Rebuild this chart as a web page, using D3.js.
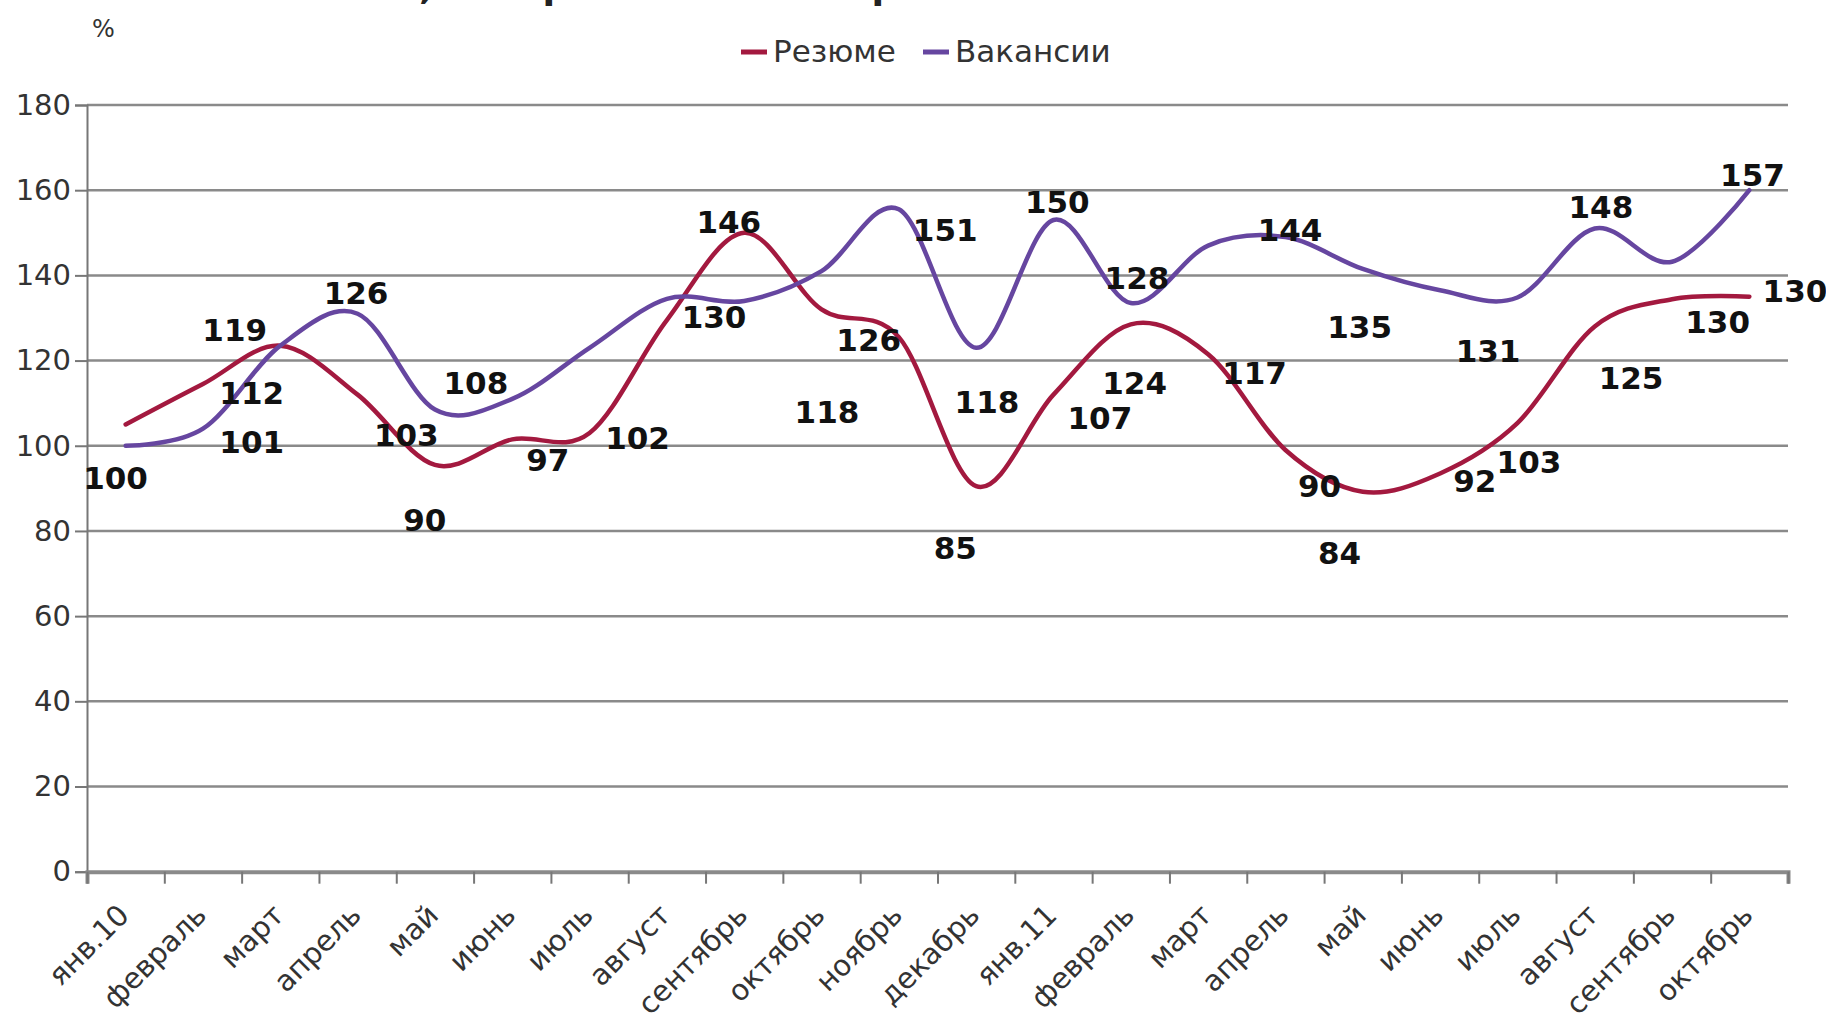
<!DOCTYPE html>
<html>
<head>
<meta charset="utf-8">
<script src="https://cdn.jsdelivr.net/npm/d3@7"></script>
<style>
  html, body { margin: 0; padding: 0; background: #fff; }
  svg { display: block; }
</style>
</head>
<body>
<svg id="chart" width="1826" height="1017"></svg>
<script>
// ---- data ----
const categories = ["янв.10","февраль","март","апрель","май","июнь","июль","август","сентябрь","октябрь","ноябрь","декабрь",
                    "янв.11","февраль","март","апрель","май","июнь","июль","август","сентябрь","октябрь"];
const resume    = [105, 114.5, 123.5, 112, 95.5, 101.5, 103, 129.5, 150, 132, 125.5, 90.5, 112, 128.5, 121.5, 99, 89.2, 93.5, 105.3, 128, 134.4, 135];
const vacancies = [100, 104, 123.5, 131, 108.5, 111, 123, 134.5, 134, 141, 155.5, 123, 153, 133.5, 147, 149, 141.5, 136.5, 134.8, 151, 143.2, 160];
const yTicks = [0, 20, 40, 60, 80, 100, 120, 140, 160, 180];
const seriesNames = ["Резюме", "Вакансии"];
// data labels: text, category position, value position
const labelText = ["100","119","112","101","126","103","90","108","97","102","130","146","118","126","151","85","118",
                   "150","107","124","128","117","144","90","84","135","92","131","103","148","125","130","157","130"];
const labelCat  = [-0.13,1.41,1.63,1.63,2.98,3.63,3.87,4.53,5.46,6.62,7.61,7.80,9.07,9.61,10.6,10.73,11.14,
                   12.05,12.6,13.05,13.08,14.6,15.06,15.44,15.7,15.96,17.45,17.62,18.15,19.08,19.47,20.59,21.04,21.59];
const labelVal  = [92.3,127.2,112.3,100.9,135.8,102.5,82.6,114.6,96.6,101.7,130.3,152.6,108,124.8,150.6,75.9,110.3,
                   157.2,106.4,114.6,139.3,117,150.6,90.4,74.7,127.9,91.7,122.1,96.2,156.1,115.8,129.1,163.5,136.2];
const titleText = "НСО, январь 2010 – октябрь 2011";
const unitText = "%";

// ---- layout ----
const svg = d3.select("#chart");
const plotLeft = 87, plotRight = 1788, plotTop = 105, plotBottom = 871.7;
const colors = ["#a3193f", "#6646a0"];
const font = "'DejaVu Sans', Verdana, sans-serif";

const x = d3.scaleLinear().domain([-0.5, categories.length - 0.5]).range([plotLeft, plotRight]);
const y = d3.scaleLinear().domain([0, 180]).range([plotBottom, plotTop]);

// title (mostly cut off at the top)
svg.append("text").attr("x", 330).attr("y", 0)
  .attr("textLength", 706).attr("lengthAdjust", "spacingAndGlyphs")
  .attr("font-family", font).attr("font-weight", "bold").attr("font-size", 31).attr("fill", "#222")
  .text(titleText);

// unit
svg.append("text").attr("x", 92).attr("y", 37).attr("font-family", font).attr("font-size", 24)
  .attr("fill", "#333").text(unitText);

// gridlines
svg.append("g").selectAll("line").data(yTicks.filter(d => d > 0)).join("line")
  .attr("x1", plotLeft).attr("x2", plotRight).attr("y1", d => y(d)).attr("y2", d => y(d))
  .attr("stroke", "#8a8a8a").attr("stroke-width", 2.5);

// y axis
const yAxis = svg.append("g").attr("transform", `translate(${plotLeft},0)`)
  .call(d3.axisLeft(y).tickValues(yTicks).tickSize(12).tickPadding(4));
yAxis.select(".domain").attr("stroke", "#777").attr("stroke-width", 2);
yAxis.selectAll(".tick line").attr("stroke", "#777").attr("stroke-width", 2);
yAxis.selectAll(".tick text").attr("font-family", font).attr("font-size", 29).attr("fill", "#333");

// x axis (ticks at category boundaries)
const xAxis = svg.append("g").attr("transform", `translate(0,${plotBottom})`)
  .call(d3.axisBottom(x).tickValues(d3.range(-0.5, categories.length)).tickSize(12).tickFormat(""));
xAxis.select(".domain").attr("stroke", "#8a8a8a").attr("stroke-width", 4);
xAxis.selectAll(".tick line").attr("stroke", "#777").attr("stroke-width", 2);

// category labels
svg.append("g").selectAll("text").data(categories).join("text")
  .attr("transform", (d, i) => `translate(${x(i) - 2},${plotBottom + 38}) rotate(-45)`)
  .attr("text-anchor", "end").attr("dy", "0.35em")
  .attr("font-family", font).attr("font-size", 29).attr("fill", "#333")
  .text(d => d);

// lines
const line = d3.line().x((d, i) => x(i)).y(d => y(d)).curve(d3.curveCardinal.tension(0));
[resume, vacancies].forEach((s, k) => {
  svg.append("path").datum(s).attr("d", line).attr("fill", "none")
    .attr("stroke", colors[k]).attr("stroke-width", 4.5).attr("stroke-linecap", "round");
});

// data labels
svg.append("g").selectAll("text").data(labelText).join("text")
  .attr("x", (d, i) => x(labelCat[i])).attr("y", (d, i) => y(labelVal[i]))
  .attr("text-anchor", "middle").attr("dy", "0.35em")
  .attr("font-family", font).attr("font-weight", "bold").attr("font-size", 31).attr("fill", "#111")
  .text(d => d);

// legend
const legendX = [741, 923];
const lg = svg.append("g");
seriesNames.forEach((n, k) => {
  lg.append("line").attr("x1", legendX[k]).attr("x2", legendX[k] + 26).attr("y1", 52).attr("y2", 52)
    .attr("stroke", colors[k]).attr("stroke-width", 5);
  lg.append("text").attr("x", legendX[k] + 32).attr("y", 62).attr("font-family", font).attr("font-size", 31)
    .attr("fill", "#333").text(n);
});
</script>
</body>
</html>
